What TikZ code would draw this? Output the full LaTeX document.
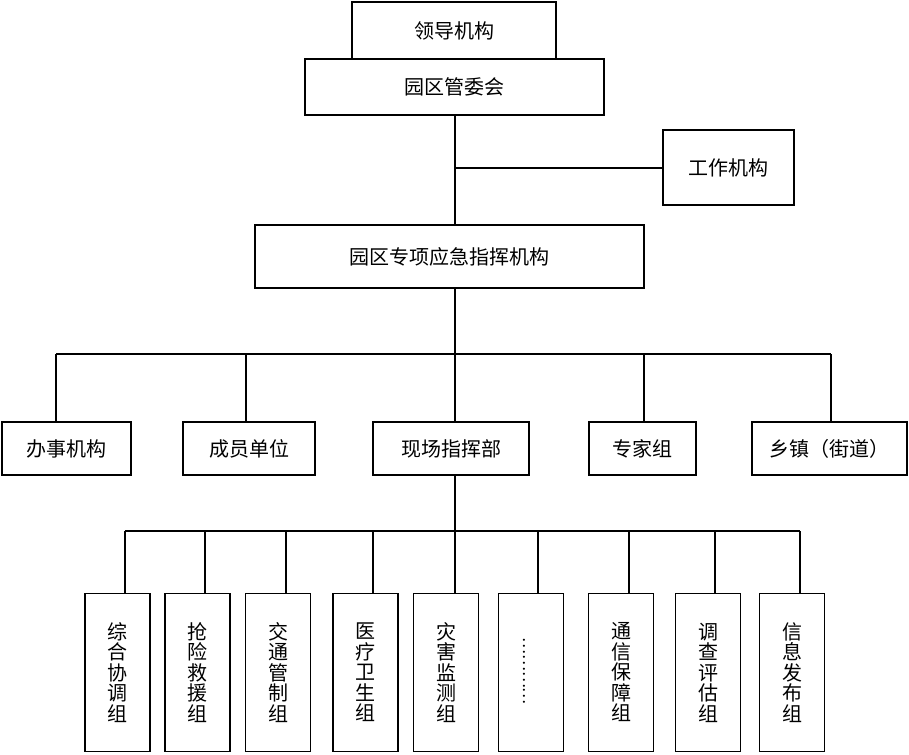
\documentclass[tikz,border=0pt]{standalone}
\usepackage{fontspec}
\newfontfamily\cjk{Noto Sans CJK SC}
\begin{document}
\begin{tikzpicture}[x=1pt,y=-1pt,
  box/.style={draw,line width=1.5pt,inner sep=0pt,font=\cjk\fontsize{20}{22}\selectfont,align=center},
  vbox/.style={box,minimum width=65pt,minimum height=158pt,font=\cjk\fontsize{20}{20.5}\selectfont},
  row/.style={box,minimum height=53pt},
  conn/.style={line width=1.4pt}]
\useasboundingbox (0,0) rectangle (909,754);
\node[box,minimum width=204pt,minimum height=57pt] (lead) at (454,30.5) {领导机构};
\node[box,minimum width=299pt,minimum height=56pt,fill=white] (gw) at (454.5,87) {园区管委会};
\node[box,minimum width=131pt,minimum height=75pt] (work) at (728.5,167.5) {工作机构};
\node[box,minimum width=389pt,minimum height=63pt] (zx) at (449.5,256.5) {园区专项应急指挥机构};
\node[row,minimum width=129pt] (bs) at (66.5,448.5) {办事机构};
\node[row,minimum width=132pt] (cy) at (249,448.5) {成员单位};
\node[row,minimum width=156pt] (xc) at (451,448.5) {现场指挥部};
\node[row,minimum width=107pt] (zj) at (642.5,448.5) {专家组};
\node[row,minimum width=155pt] (xz) at (829.5,448.5) {乡镇（街道）};
\node[vbox] (b1) at (117.5,672.5) {综\\合\\协\\调\\组};
\node[vbox] (b2) at (197.5,672.5) {抢\\险\\救\\援\\组};
\node[vbox] (b3) at (278,672.5) {交\\通\\管\\制\\组};
\node[vbox] (b4) at (365.5,672.5) {医\\疗\\卫\\生\\组};
\node[vbox] (b5) at (446,672.5) {灾\\害\\监\\测\\组};
\node[vbox] (b6) at (531,672.5) {};
\node[font=\cjk\fontsize{16}{16}\selectfont,rotate=-90,inner sep=0pt] (dots) at (524,671) {…………};
\node[vbox] (b7) at (621,672.5) {通\\信\\保\\障\\组};
\node[vbox] (b8) at (708,672.5) {调\\查\\评\\估\\组};
\node[vbox] (b9) at (792,672.5) {信\\息\\发\\布\\组};
% top trunk
\coordinate (t1) at (455,115);
\coordinate (tw) at (455,168);
\coordinate (t2) at (455,225);
\draw[conn] (t1) -- (t2);
\draw[conn] (tw) -- (work.west |- tw);
% bus 1
\coordinate (u0) at (455,288);
\coordinate (ua) at (56,354);
\coordinate (ub) at (246,354);
\coordinate (uc) at (455,354);
\coordinate (ud) at (644,354);
\coordinate (ue) at (831,354);
\draw[conn] (u0) -- (uc);
\draw[conn] (ua) -- (ue);
\draw[conn] (ua) -- (ua |- bs.north);
\draw[conn] (ub) -- (ub |- cy.north);
\draw[conn] (uc) -- (uc |- xc.north);
\draw[conn] (ud) -- (ud |- zj.north);
\draw[conn] (ue) -- (ue |- xz.north);
% bus 2
\coordinate (v0) at (455,475);
\coordinate (v1) at (125,531);
\coordinate (v2) at (205,531);
\coordinate (v3) at (286,531);
\coordinate (v4) at (373,531);
\coordinate (v5) at (455,531);
\coordinate (v6) at (538,531);
\coordinate (v7) at (629,531);
\coordinate (v8) at (715,531);
\coordinate (v9) at (800,531);
\draw[conn] (v0) -- (v5);
\draw[conn] (v1) -- (v9);
\foreach \i in {1,...,9} {\draw[conn] (v\i) -- (v\i |- b\i.north);}
\end{tikzpicture}
\end{document}
